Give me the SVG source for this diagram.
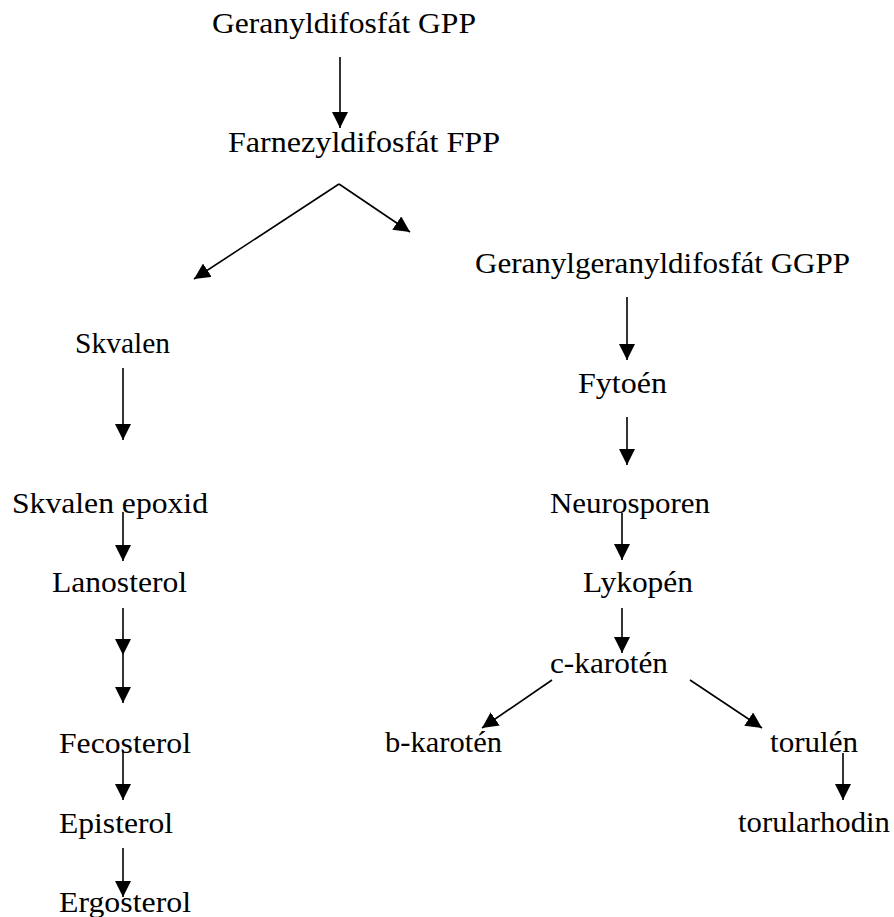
<svg xmlns="http://www.w3.org/2000/svg" width="894" height="917" viewBox="0 0 894 917">
<style>
text{font-family:"Liberation Serif","Times New Roman",serif;font-size:30px;fill:#000}
.c line{stroke:#000;stroke-width:1.6;marker-end:url(#ah)}
</style>
<defs>
<marker id="ah" markerUnits="userSpaceOnUse" markerWidth="16" markerHeight="16" viewBox="0 0 16 16" refX="16" refY="8" orient="auto">
<path d="M0,0 L16,8 L0,16 Z" fill="#000"/>
</marker>
</defs>
<rect width="894" height="917" fill="#fff"/>
<g id="gpp"><text x="212" y="33" textLength="264" lengthAdjust="spacingAndGlyphs">Geranyldifosfát GPP</text></g>
<g id="fpp"><text x="228" y="152" textLength="272" lengthAdjust="spacingAndGlyphs">Farnezyldifosfát FPP</text></g>
<g id="ggpp"><text x="475" y="273" textLength="375" lengthAdjust="spacingAndGlyphs">Geranylgeranyldifosfát GGPP</text></g>
<g id="skvalen"><text x="75" y="353" textLength="95" lengthAdjust="spacingAndGlyphs">Skvalen</text></g>
<g id="fytoen"><text x="578" y="393" textLength="89" lengthAdjust="spacingAndGlyphs">Fytoén</text></g>
<g id="skvalen-epoxid"><text x="12" y="513" textLength="196" lengthAdjust="spacingAndGlyphs">Skvalen epoxid</text></g>
<g id="neurosporen"><text x="550" y="513" textLength="160" lengthAdjust="spacingAndGlyphs">Neurosporen</text></g>
<g id="lanosterol"><text x="52" y="592" textLength="135" lengthAdjust="spacingAndGlyphs">Lanosterol</text></g>
<g id="lykopen"><text x="583" y="592" textLength="110" lengthAdjust="spacingAndGlyphs">Lykopén</text></g>
<g id="c-karoten"><text x="550" y="673" textLength="118" lengthAdjust="spacingAndGlyphs">c-karotén</text></g>
<g id="b-karoten"><text x="385" y="752" textLength="117" lengthAdjust="spacingAndGlyphs">b-karotén</text></g>
<g id="torulen"><text x="770" y="752" textLength="88" lengthAdjust="spacingAndGlyphs">torulén</text></g>
<g id="fecosterol"><text x="59" y="753" textLength="132" lengthAdjust="spacingAndGlyphs">Fecosterol</text></g>
<g id="episterol"><text x="59" y="833" textLength="114" lengthAdjust="spacingAndGlyphs">Episterol</text></g>
<g id="torularhodin"><text x="738" y="832" textLength="152" lengthAdjust="spacingAndGlyphs">torularhodin</text></g>
<g id="ergosterol"><text x="59" y="912" textLength="132" lengthAdjust="spacingAndGlyphs">Ergosterol</text></g>
<g id="connectors" class="c">
<line x1="340" y1="57" x2="340" y2="128"/>
<line x1="339" y1="184" x2="194" y2="279"/>
<line x1="339" y1="184" x2="410" y2="232"/>
<line x1="123" y1="368" x2="123" y2="440"/>
<line x1="123" y1="512" x2="123" y2="561"/>
<line x1="123" y1="608" x2="123" y2="655"/>
<line x1="123" y1="655" x2="123" y2="703"/>
<line x1="123" y1="750" x2="123" y2="800"/>
<line x1="123" y1="848" x2="123" y2="897"/>
<line x1="627" y1="297" x2="627" y2="360"/>
<line x1="627" y1="417" x2="627" y2="465"/>
<line x1="622" y1="513" x2="622" y2="560"/>
<line x1="622" y1="608" x2="622" y2="653"/>
<line x1="552" y1="680" x2="482" y2="728"/>
<line x1="690" y1="680" x2="762" y2="728"/>
<line x1="843" y1="753" x2="843" y2="800"/>
</g>
</svg>
